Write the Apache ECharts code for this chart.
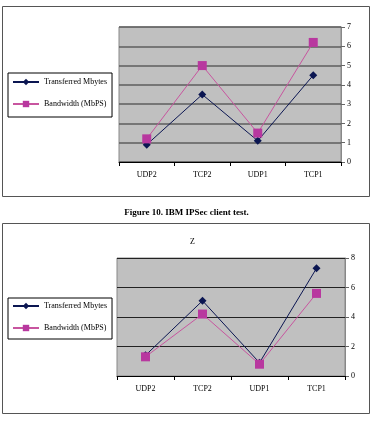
<!DOCTYPE html>
<html>
<head>
<meta charset="utf-8">
<script src="https://cdn.jsdelivr.net/npm/echarts@6/dist/echarts.min.js"></script>
<style>
  html, body { margin: 0; padding: 0; background: #fff; }
  #main { width: 373px; height: 422px; }
</style>
</head>
<body>
<div id="main"></div>
<script>
const categories = ['UDP2', 'TCP2', 'UDP1', 'TCP1'];
const seriesNames = ['Transferred Mbytes', 'Bandwidth (MbPS)'];
// figure 10, upper chart
const transferred1 = [0.9, 3.5, 1.1, 4.5];
const bandwidth1 = [1.2, 5.0, 1.5, 6.2];
// lower chart "Z"
const transferred2 = [1.4, 5.1, 0.9, 7.3];
const bandwidth2 = [1.3, 4.2, 0.8, 5.6];
const caption = 'Figure 10. IBM IPSec client test.';

const font = 'Liberation Serif, Times New Roman, serif';
const navy = '#0b1652';
const pink = '#c8559f';
const pinkMark = '#b8389f';

let chart = echarts.init(document.getElementById('main'));

function catAxis(idx) {
    return {
        type: 'category',
        gridIndex: idx,
        data: categories,
        boundaryGap: true,
        axisLine: { lineStyle: { color: '#000', width: 1 } },
        axisTick: { show: true, length: 4, lineStyle: { color: '#000' } },
        axisLabel: { color: '#000', fontFamily: font, fontSize: 8, margin: 9 }
    };
}

function valAxis(idx, max, interval, gridColor, gridWidth) {
    return {
        type: 'value',
        gridIndex: idx,
        position: 'right',
        min: 0,
        max: max,
        interval: interval,
        axisLine: { show: true, lineStyle: { color: '#888' } },
        axisTick: { show: true, length: 4, lineStyle: { color: '#666' } },
        axisLabel: { color: '#000', fontFamily: font, fontSize: 8, margin: 6 },
        splitLine: { show: true, lineStyle: { color: gridColor, width: gridWidth } }
    };
}

function lineSeries(name, data, idx, color, lineColor, symbol, size) {
    return {
        name: name,
        type: 'line',
        xAxisIndex: idx,
        yAxisIndex: idx,
        data: data,
        symbol: symbol,
        symbolSize: size,
        itemStyle: { color: color },
        lineStyle: { color: lineColor, width: 1 },
        animation: false
    };
}

function legendBox(top, gap, padding) {
    return {
        data: seriesNames,
        orient: 'vertical',
        left: 8,
        top: top,
        padding: padding,
        itemGap: gap,
        itemWidth: 26,
        itemHeight: 8,
        borderColor: '#000',
        borderWidth: 1,
        backgroundColor: '#fff',
        textStyle: { color: '#000', fontFamily: font, fontSize: 8 },
        selectedMode: false
    };
}

self.option = {
    backgroundColor: '#fff',
    animation: false,
    graphic: [
        { type: 'rect', shape: { x: 2.5, y: 6.5, width: 367, height: 190 }, style: { fill: 'none', stroke: '#555', lineWidth: 1 } },
        { type: 'rect', shape: { x: 2.5, y: 223.5, width: 367, height: 190 }, style: { fill: 'none', stroke: '#555', lineWidth: 1 } }
    ],
    title: [
        { text: caption, left: 'center', top: 203, textStyle: { fontFamily: font, fontSize: 9, fontWeight: 'bold', color: '#000' } },
        { text: 'Z', left: 185, top: 233, textStyle: { fontFamily: font, fontSize: 8, fontWeight: 'normal', color: '#000' } }
    ],
    legend: [legendBox(73, 14, [5, 5, 9, 4]), legendBox(298, 14, [4, 5, 7, 4])],
    grid: [
        { left: 119, right: 32, top: 27, height: 135, show: true, backgroundColor: '#c0c0c0', borderColor: '#888', borderWidth: 1 },
        { left: 117, right: 28, top: 258, height: 118, show: true, backgroundColor: '#c0c0c0', borderColor: '#888', borderWidth: 1 }
    ],
    xAxis: [catAxis(0), catAxis(1)],
    yAxis: [valAxis(0, 7, 1, '#5e5e5e', 1.5), valAxis(1, 8, 2, '#222', 1)],
    series: [
        lineSeries(seriesNames[0], transferred1, 0, navy, navy, 'diamond', 8),
        lineSeries(seriesNames[1], bandwidth1, 0, pinkMark, pink, 'rect', 9),
        lineSeries(seriesNames[0], transferred2, 1, navy, navy, 'diamond', 8),
        lineSeries(seriesNames[1], bandwidth2, 1, pinkMark, pink, 'rect', 9)
    ]
};

chart.setOption(self.option);
</script>
</body>
</html>
